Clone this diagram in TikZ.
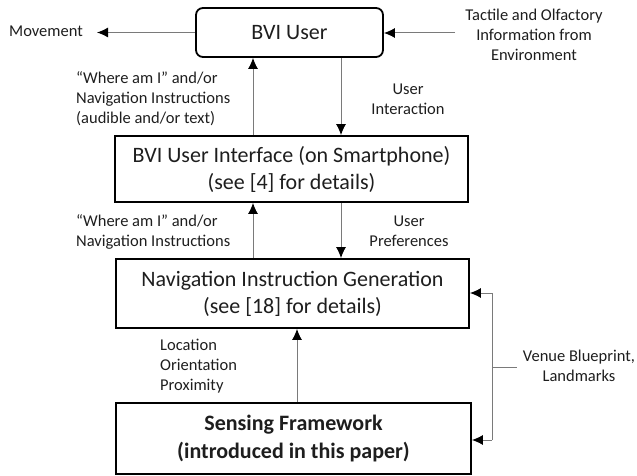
\documentclass[tikz,border=0pt]{standalone}
\usepackage{fontspec}
\setmainfont{Carlito}
\usetikzlibrary{arrows.meta}
\definecolor{txt}{HTML}{1E1E1E}
\definecolor{conn}{HTML}{7A7A7A}
\begin{document}
\begin{tikzpicture}[x=1pt,y=-1pt,
  box/.style={draw=black,line width=1.8pt,fill=white,text=txt,inner sep=0pt,
    font=\fontsize{22}{27}\selectfont,align=center},
  lbl/.style={text=txt,inner sep=0pt,font=\fontsize{16.5}{20}\selectfont},
  arr/.style={draw=conn,line width=1pt,-{Latex[length=11pt,width=10pt,color=black]}},
  ln/.style={draw=conn,line width=1pt}]
\useasboundingbox (0,0) rectangle (637,476);
% boxes
\node[box,rounded corners=7pt,minimum width=187pt,minimum height=49pt] (user) at (289.5,32.5) {BVI User};
\node[box,minimum width=353pt,minimum height=66pt] (ui) at (291.5,169) {BVI User Interface (on Smartphone)\\(see [4] for details)};
\node[box,minimum width=353pt,minimum height=69pt] (nav) at (292.5,293.5) {Navigation Instruction Generation\\(see [18] for details)};
\node[box,minimum width=355pt,minimum height=71pt,font=\fontsize{22}{28}\selectfont\bfseries] (sens) at (293.5,438.5) {Sensing Framework\\(introduced in this paper)};
% coordinates
\coordinate (upx) at (253,0);
\coordinate (dnx) at (341,0);
\coordinate (sx) at (297,0);
\coordinate (mv) at (97,32.5);
\coordinate (tc) at (455,33);
\coordinate (vx) at (492,0);
\coordinate (vs) at (517,367);
% labels
\node[lbl] (lmove) at (46,31) {Movement};
\node[lbl,align=center] (ltact) at (534,35) {Tactile and Olfactory\\Information from\\Environment};
\node[lbl,align=left,anchor=west] (lw1) at (76,99) {“Where am I” and/or\\Navigation Instructions\\(audible and/or text)};
\node[lbl,align=center] (lui) at (408,99) {User\\Interaction};
\node[lbl,align=left,anchor=west] (lw2) at (76,232) {“Where am I” and/or\\Navigation Instructions};
\node[lbl,align=center] (lpref) at (409,231) {User\\Preferences};
\node[lbl,align=left,anchor=west] (lloc) at (160,366) {Location\\Orientation\\Proximity};
\node[lbl,align=center] (lven) at (579,366) {Venue Blueprint,\\Landmarks};
% connectors
\draw[arr] (user.west) -- (mv);
\draw[arr] (tc) -- (user.east |- tc);
\draw[arr] (ui.north -| upx) -- (user.south -| upx);
\draw[arr] (user.south -| dnx) -- (ui.north -| dnx);
\draw[arr] (nav.north -| upx) -- (ui.south -| upx);
\draw[arr] (ui.south -| dnx) -- (nav.north -| dnx);
\draw[arr] (sens.north -| sx) -- (nav.south -| sx);
\draw[arr] (vx |- 0,293) -- (nav.east |- 0,293);
\draw[ln] (vx |- 0,293) -- (vx |- 0,440);
\draw[arr] (vx |- 0,440) -- (sens.east |- 0,440);
\draw[ln] (vx |- vs) -- (vs);
\end{tikzpicture}
\end{document}
